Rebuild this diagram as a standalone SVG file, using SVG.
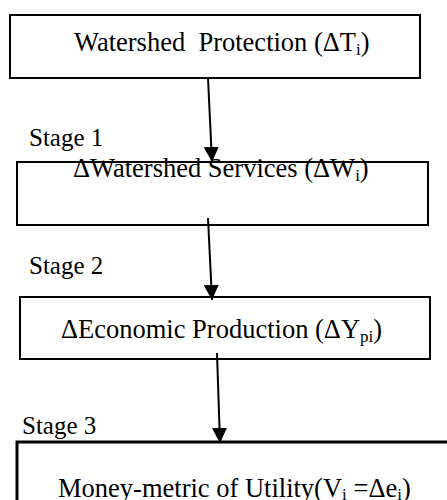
<svg xmlns="http://www.w3.org/2000/svg" width="447" height="500" viewBox="0 0 447 500">
<defs>
<style>
.box{fill:#fff;stroke:#000;stroke-width:2}
.t{font-family:"Liberation Serif","Times New Roman",serif;font-size:26.5px;fill:#000}
.s{font-family:"Liberation Serif","Times New Roman",serif;font-size:25px;fill:#000}
.sub{font-size:17px}
.conn line{stroke:#000;stroke-width:2}
</style>
<marker id="ah" markerWidth="15" markerHeight="15" refX="15" refY="7.5" orient="auto" markerUnits="userSpaceOnUse">
<path d="M0,0 L15,7.5 L0,15 Z" fill="#000"/>
</marker>
</defs>
<rect width="447" height="500" fill="#fff"/>
<g id="n1">
<rect class="box" x="10" y="15" width="410" height="63"/>
<text class="t" x="74" y="51" xml:space="preserve">Watershed  Protection (ΔT<tspan class="sub" dy="4">i</tspan><tspan dy="-4">)</tspan></text>
</g>
<g id="n2">
<rect class="box" x="17" y="162" width="411" height="63"/>
<text class="s" x="29" y="146">Stage 1</text>
<text class="t" x="73" y="177">ΔWatershed Services (ΔW<tspan class="sub" dy="4">i</tspan><tspan dy="-4">)</tspan></text>
</g>
<g id="n3">
<rect class="box" x="20" y="297" width="410" height="62"/>
<text class="s" x="29" y="274">Stage 2</text>
<text class="t" x="61" y="338">ΔEconomic Production (ΔY<tspan class="sub" dy="4">pi</tspan><tspan dy="-4">)</tspan></text>
</g>
<g id="n4">
<rect class="box" x="17" y="442" width="450" height="80" style="stroke-width:3"/>
<text class="s" x="22" y="434">Stage 3</text>
<text class="t" x="58" y="497">Money-metric of Utility(V<tspan class="sub" dy="3">i</tspan><tspan dy="-3"> =Δe</tspan><tspan class="sub" dy="3">i</tspan><tspan dy="-3">)</tspan></text>
</g>
<g id="connectors" class="conn">
<line x1="208" y1="78" x2="212" y2="162" marker-end="url(#ah)"/>
<line x1="208" y1="218" x2="212" y2="300" marker-end="url(#ah)"/>
<line x1="217" y1="353" x2="220" y2="443" marker-end="url(#ah)"/>
</g>
</svg>
